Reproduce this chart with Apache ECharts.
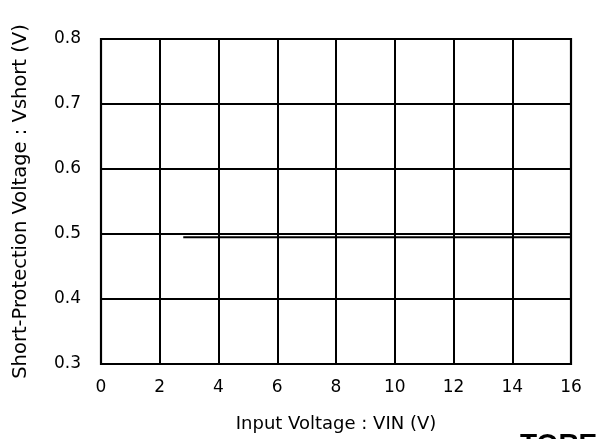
<!DOCTYPE html>
<html><head><meta charset="utf-8">
<script src="https://cdn.jsdelivr.net/npm/echarts@6/dist/echarts.min.js"></script>
<style>html,body{margin:0;padding:0;background:#fff}#c{width:596px;height:439px}</style>
</head><body><div id="c"></div>
<script>
const xTicks = [0, 2, 4, 6, 8, 10, 12, 14, 16];
const yTicks = [0.3, 0.4, 0.5, 0.6, 0.7, 0.8];
const vin = [2.8, 16];
const vshort = [0.495, 0.495];
const xName = 'Input Voltage : VIN (V)';
const yName = 'Short-Protection Voltage : Vshort (V)';

const chart = echarts.init(document.getElementById('c'), null, {renderer: 'canvas'});
const f = '"DejaVu Sans", sans-serif';
chart.setOption({
  animation: false,
  grid: {left: 101, right: 25, top: 39, bottom: 75, show: true, borderColor: '#000', borderWidth: 2.2, backgroundColor: 'transparent'},
  xAxis: {
    type: 'value', min: xTicks[0], max: xTicks[xTicks.length-1], interval: 2,
    axisLine: {show: false}, axisTick: {show: false},
    splitLine: {show: true, lineStyle: {color: '#000', width: 2}},
    axisLabel: {color: '#000', fontSize: 17, fontFamily: f, margin: 15},
    name: xName, nameLocation: 'middle', nameGap: 51,
    nameTextStyle: {color: '#000', fontSize: 18, fontFamily: f}
  },
  yAxis: {
    type: 'value', min: yTicks[0], max: yTicks[yTicks.length-1], interval: 0.1,
    axisLine: {show: false}, axisTick: {show: false},
    splitLine: {show: true, lineStyle: {color: '#000', width: 2}},
    axisLabel: {color: '#000', fontSize: 17, fontFamily: f, margin: 20, formatter: v => v.toFixed(1)},
    name: yName, nameLocation: 'middle', nameGap: 70, nameRotate: 90,
    nameTextStyle: {color: '#000', fontSize: 19.5, fontFamily: f}
  },
  series: [{
    type: 'line', data: vin.map((x, i) => [x, vshort[i]]),
    symbol: 'none', lineStyle: {color: '#000', width: 2}
  }],
  graphic: [{
    type: 'text', left: 520, top: 431,
    style: {text: 'TOREX', fontSize: 28, fontWeight: 'bold', fontFamily: '"Liberation Sans", Arial, sans-serif', fill: '#000'}
  }]
});
</script></body></html>
